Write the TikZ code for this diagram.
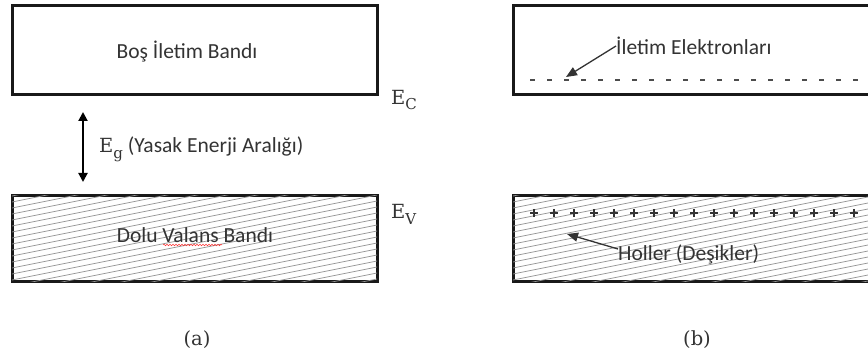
\documentclass[tikz,border=0pt]{standalone}
\usepackage[no-math]{fontspec}
\setmainfont{Carlito}
\newfontfamily\cambriaish{DejaVu Serif}
\usetikzlibrary{arrows.meta,decorations.pathmorphing}
\newcommand{\enlbl}[1]{{\cambriaish E\raisebox{-0.3em}{\fontsize{15}{16}\selectfont #1}}}
\tikzset{
  band/.style={draw=black!90, line width=3pt, inner sep=0pt},
  lbl/.style={font=\fontsize{21.5}{25}\selectfont, text=black!80, inner sep=0pt},
  elbl/.style={font=\fontsize{19.5}{24}\selectfont, text=black!80, inner sep=0pt},
  hatchline/.style={draw=black!42, line width=0.7pt},
  ptr/.style={draw=black!80, line width=1.3pt, -{Triangle[length=11pt,width=9pt]}},
  gap/.style={draw=black, line width=2pt, {Triangle[length=9pt,width=9pt]}-{Triangle[length=9pt,width=9pt]}},
}
\begin{document}
\begin{tikzpicture}[x=1pt,y=-1pt]
\useasboundingbox (0,0) rectangle (868,358);
\clip (0,0) rectangle (868,358);
% boxes
\node[band, minimum width=365pt, minimum height=89pt] (cbA) at (194.5,50.5) {};
\node[band, minimum width=365pt, minimum height=86pt] (vbA) at (194.5,239) {};
\node[band, minimum width=372pt, minimum height=89pt] (cbB) at (699,50.5) {};
\node[band, minimum width=372pt, minimum height=86pt] (vbB) at (699,239) {};
% hatching
\begin{scope}
  \clip ([xshift=1.5pt,yshift=-1.5pt]vbA.north west) rectangle ([xshift=-1.5pt,yshift=1.5pt]vbA.south east);
  \foreach \k in {0,...,75} \draw[hatchline] (12,196+\k*6) -- ++(380,-76);
\end{scope}
\begin{scope}
  \clip ([xshift=1.5pt,yshift=-1.5pt]vbB.north west) rectangle ([xshift=-1.5pt,yshift=1.5pt]vbB.south east);
  \foreach \k in {0,...,80} \draw[hatchline] (513,196+\k*6) -- ++(390,-78);
\end{scope}
% texts (a)
\node[lbl] (tA1) at (187,52) {Boş İletim Bandı};
\node[lbl] (tA2) at (195,235) {Dolu Valans Bandı};
\draw[red!80, line width=0.5pt, decorate, decoration={snake, amplitude=0.8pt, segment length=3pt}] (163,245) -- (222,245);
\node[elbl, anchor=west] (ec) at (391,100) {\enlbl{C}};
\node[elbl, anchor=west] (ev) at (391,214) {\enlbl{V}};
\coordinate (gtop) at (83,112);
\coordinate (gbot) at (83,182);
\draw[gap] (gtop) -- (gbot);
\node[lbl, anchor=west] (eg) at (99,149) {{\fontsize{19.5}{24}\selectfont\color{black!80}\enlbl{g}} (Yasak Enerji Aralığı)};
\node[elbl] (capA) at (197,340) {\cambriaish (a)};
% texts (b)
\foreach \i in {0,...,19} \draw[black!70, line width=1.6pt] (530+\i*17,80) -- ++(4.5,0);
\foreach \i in {0,...,16} {
  \draw[black!80, line width=1.1pt] (534+\i*20-4,213) -- ++(8,0);
  \draw[black!80, line width=1.1pt] (534+\i*20,209) -- ++(0,8);
}
\node[lbl, anchor=west] (tB1) at (616,46) {İletim Elektronları};
\coordinate (eT) at (566,77);
\draw[ptr] (tB1.west) -- (eT);
\node[lbl, anchor=west] (tB2) at (618,254) {Holler (Deşikler)};
\coordinate (hT) at (567,234);
\draw[ptr] (tB2.west) ++(0,-5) -- (hT);
\node[elbl] (capB) at (697,340) {\cambriaish (b)};
\end{tikzpicture}
\end{document}
